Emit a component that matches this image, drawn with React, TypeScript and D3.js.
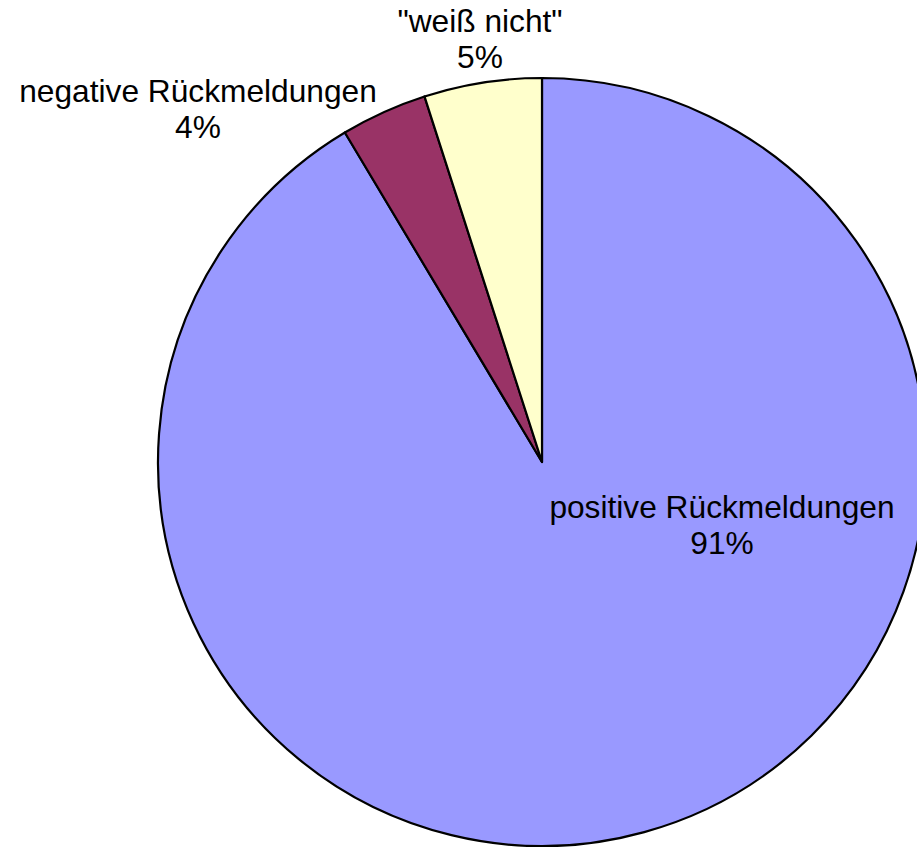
import React from "react";
import * as d3 from "d3";

const categories = ["positive Rückmeldungen", "negative Rückmeldungen", "\"weiß nicht\""];
const values = [91.42, 3.63, 4.95];
const colors = ["#9999FF", "#993366", "#FFFFCC"];
// label anchor positions (layout), relative to the pie centre: [dx, dy of first baseline]
const labelOffsets: [number, number][] = [
  [180, 56],
  [-344, -360],
  [-62, -430],
];

const W = 917;
const H = 847;
const CX = 542;
const CY = 462;
const R = 384;

export default function App() {
  const total = d3.sum(values);
  const pie = d3.pie<number>().sort(null).startAngle(0).endAngle(2 * Math.PI)(values);
  const arc = d3.arc<d3.PieArcDatum<number>>().innerRadius(0).outerRadius(R);
  return (
    <svg
      width={W}
      height={H}
      style={{ position: "absolute", left: 0, top: 0, background: "#fff" }}
      fontFamily="'Liberation Sans', Arial, sans-serif"
    >
      <g transform={`translate(${CX},${CY})`}>
        {pie.map((d, i) => (
          <path key={i} d={arc(d) || ""} fill={colors[i]} stroke="#000" strokeWidth={2.2} strokeLinejoin="round" />
        ))}
        {pie.map((d, i) => (
          <text key={"t" + i} textAnchor="middle" fontSize={31.7} fill="#000">
            <tspan x={labelOffsets[i][0]} y={labelOffsets[i][1]}>{categories[i]}</tspan>
            <tspan x={labelOffsets[i][0]} y={labelOffsets[i][1] + 36}>
              {Math.round((values[i] / total) * 100)}%
            </tspan>
          </text>
        ))}
      </g>
    </svg>
  );
}
